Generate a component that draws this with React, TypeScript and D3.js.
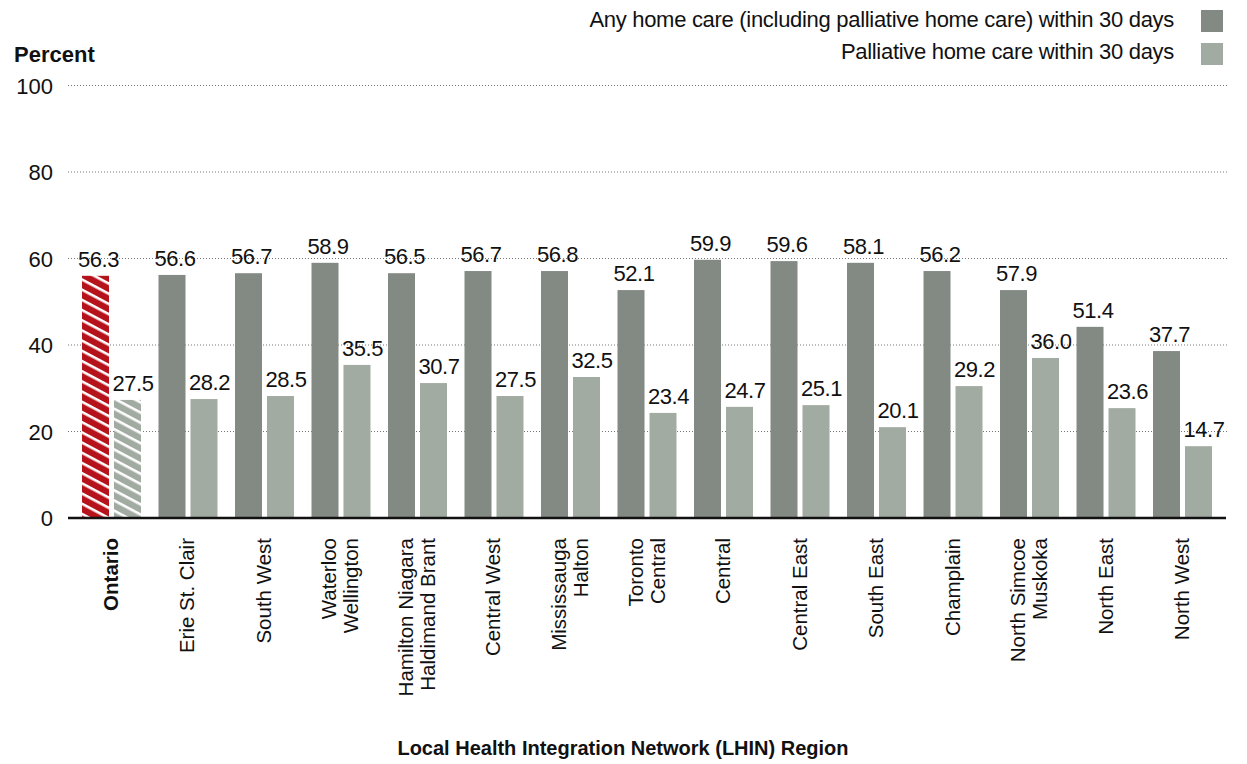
import React from "react";
import * as d3 from "d3";

const regions: string[][] = [
  ["Ontario"],
  ["Erie St. Clair"],
  ["South West"],
  ["Waterloo", "Wellington"],
  ["Hamilton Niagara", "Haldimand Brant"],
  ["Central West"],
  ["Mississauga", "Halton"],
  ["Toronto", "Central"],
  ["Central"],
  ["Central East"],
  ["South East"],
  ["Champlain"],
  ["North Simcoe", "Muskoka"],
  ["North East"],
  ["North West"],
];

// bar heights as drawn in the picture
const anyHomeCare = [56.0, 56.2, 56.6, 59.0, 56.6, 57.1, 57.1, 52.7, 59.7, 59.4, 59.0, 57.1, 52.7, 44.2, 38.6];
const palliativeHomeCare = [27.3, 27.5, 28.2, 35.4, 31.2, 28.2, 32.6, 24.3, 25.7, 26.1, 21.0, 30.5, 37.0, 25.4, 16.6];

// value labels as printed
const anyLabels = ["56.3", "56.6", "56.7", "58.9", "56.5", "56.7", "56.8", "52.1", "59.9", "59.6", "58.1", "56.2", "57.9", "51.4", "37.7"];
const palLabels = ["27.5", "28.2", "28.5", "35.5", "30.7", "27.5", "32.5", "23.4", "24.7", "25.1", "20.1", "29.2", "36.0", "23.6", "14.7"];

const yTicks = [0, 20, 40, 60, 80, 100];
const seriesKeys = ["any", "pal"];
const legendItems = [
  "Any home care (including palliative home care) within 30 days",
  "Palliative home care within 30 days",
];

const FONT = "'Liberation Sans', Arial, Helvetica, sans-serif";
const DARK = "#838a83";
const LIGHT = "#a2aba2";
const RED = "#b5121b";

export default function App() {
  const W = 1247;
  const H = 764;
  const x0 = 68;
  const x1 = 1226;
  const y = d3.scaleLinear().domain([0, 100]).range([518, 85.5]);
  const idx = regions.map((_, i) => String(i));
  const x = d3.scaleBand<string>().domain(idx).range([x0, x1]).paddingInner(0.229).paddingOuter(0.183);
  const xs = d3.scaleBand<string>().domain(seriesKeys).range([0, x.bandwidth()]).paddingInner(0.156).paddingOuter(0);

  return (
    <svg
      width={W}
      height={H}
      style={{ position: "absolute", left: 0, top: 0, display: "block", background: "#fff" }}
      fontFamily={FONT}
    >
      <defs>
        <pattern id="hatchRed" patternUnits="userSpaceOnUse" width="20" height="9" patternTransform="rotate(28)">
          <rect width="20" height="9" fill={RED} />
          <rect y="0" width="20" height="2.6" fill="#fff" />
        </pattern>
        <pattern id="hatchGrey" patternUnits="userSpaceOnUse" width="20" height="9" patternTransform="rotate(28)">
          <rect width="20" height="9" fill={LIGHT} />
          <rect y="0" width="20" height="2.6" fill="#fff" />
        </pattern>
      </defs>

      {/* Legend */}
      {legendItems.map((t, i) => (
        <g key={t}>
          <text x={1174} y={27 + i * 32} textAnchor="end" fontSize={22} fill="#111" letterSpacing={-0.3}>
            {t}
          </text>
          <rect x={1201} y={10 + i * 33} width={22} height={22} fill={i === 0 ? DARK : LIGHT} />
        </g>
      ))}

      {/* Y label */}
      <text x={14} y={62} fontSize={22} fontWeight={700} fill="#111">
        Percent
      </text>

      {/* gridlines */}
      {yTicks.filter((t) => t > 0).map((t) => (
        <line key={t} x1={x0} x2={1228} y1={y(t)} y2={y(t)} stroke="#777" strokeWidth={1} strokeDasharray="1,2" />
      ))}
      {yTicks.map((t) => (
        <text key={t} x={53} y={y(t) + 8} textAnchor="end" fontSize={22} fill="#111">
          {t}
        </text>
      ))}

      {/* bars */}
      {regions.map((_, i) => {
        const gx = x(String(i))!;
        const dx = gx + xs("any")!;
        const lx = gx + xs("pal")!;
        const bw = xs.bandwidth();
        const isOnt = i === 0;
        return (
          <g key={i}>
            <rect x={dx} y={y(anyHomeCare[i])} width={bw} height={y(0) - y(anyHomeCare[i])} fill={isOnt ? "url(#hatchRed)" : DARK} />
            <rect x={lx} y={y(palliativeHomeCare[i])} width={bw} height={y(0) - y(palliativeHomeCare[i])} fill={isOnt ? "url(#hatchGrey)" : LIGHT} />
            <text x={dx + bw / 2 + 3} y={y(anyHomeCare[i]) - 9} textAnchor="middle" fontSize={22} letterSpacing={-0.5} fill="#111">
              {anyLabels[i]}
            </text>
            <text x={lx + bw / 2 + 5.5} y={y(palliativeHomeCare[i]) - 9} textAnchor="middle" fontSize={22} letterSpacing={-0.5} fill="#111">
              {palLabels[i]}
            </text>
          </g>
        );
      })}

      {/* baseline */}
      <line x1={x0} x2={x1} y1={y(0)} y2={y(0)} stroke="#111" strokeWidth={2.6} />

      {/* category labels */}
      {regions.map((lines, i) => {
        const cx = x(String(i))! + x.bandwidth() / 2 - 1;
        const n = lines.length;
        return (
          <g key={"l" + i}>
            {lines.map((ln, j) => {
              const bx = cx + 7.5 + (j - (n - 1) / 2) * 22;
              return (
                <text
                  key={j}
                  transform={`translate(${bx},538) rotate(-90)`}
                  textAnchor="end"
                  fontSize={20.5}
                  fontWeight={i === 0 ? 700 : 400}
                  fill="#111"
                >
                  {ln}
                </text>
              );
            })}
          </g>
        );
      })}

      {/* x title */}
      <text x={623} y={755} textAnchor="middle" fontSize={20} fontWeight={700} fill="#111">
        Local Health Integration Network (LHIN) Region
      </text>
    </svg>
  );
}
